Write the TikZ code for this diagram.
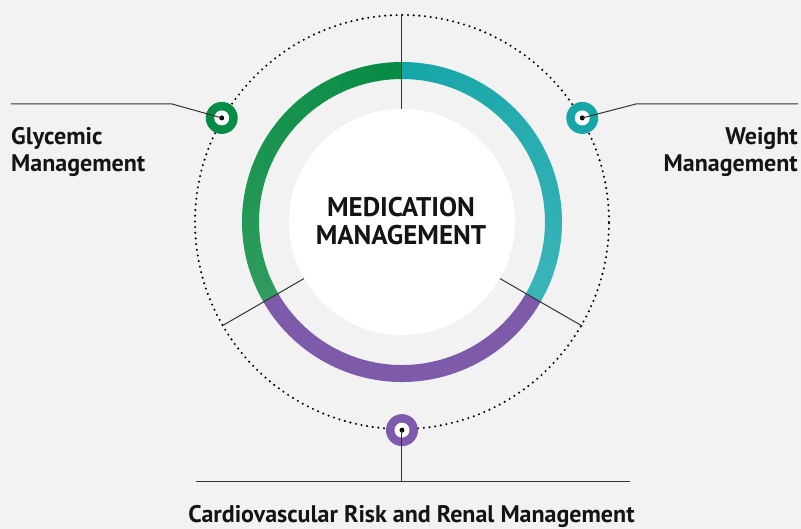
\documentclass[tikz,border=0pt]{standalone}
\usepackage{fontspec}
\setmainfont{PT Sans}
\definecolor{bggrey}{HTML}{F2F2F2}
\definecolor{greendark}{HTML}{078C45}
\definecolor{greenlight}{HTML}{2E9C5C}
\definecolor{tealdark}{HTML}{16A6A7}
\definecolor{teallight}{HTML}{3BB4B9}
\definecolor{purplering}{HTML}{7D5AAA}
\definecolor{inkgrey}{HTML}{333333}
\tikzset{
  ring/.style    = {line width=17pt},
  spoke/.style   = {draw=inkgrey, line width=1pt},
  leader/.style  = {draw=inkgrey, line width=1pt},
  orbit/.style   = {circle, draw=black, line width=2.3pt, line cap=round,
                    dash pattern=on 0pt off 5.7pt, minimum size=414pt, inner sep=0pt},
  core/.style    = {circle, fill=white, minimum size=226pt, inner sep=0pt},
  marker/.style  = {circle, fill=#1, minimum size=32pt, inner sep=0pt},
  hole/.style    = {circle, fill=white, minimum size=15pt, inner sep=0pt},
  pin/.style     = {circle, fill=black, minimum size=5pt, inner sep=0pt},
  area/.style    = {font=\bfseries\fontsize{24}{27}\selectfont, text=black!92, inner sep=0pt},
  title/.style   = {area, font=\bfseries\fontsize{27}{28}\selectfont}
}

\begin{document}
\begin{tikzpicture}[x=1pt, y=1pt]
  \useasboundingbox[fill=bggrey] (-402,-307) rectangle (399,222);

  % coloured ring
  \foreach \i in {0,...,23}{
    \pgfmathtruncatemacro\pct{100-\i*100/23}
    \draw[ring, draw=greendark!\pct!greenlight]
      (90+5*\i:151.5) arc[start angle=90+5*\i, end angle=95.3+5*\i, radius=151.5pt];
    \draw[ring, draw=tealdark!\pct!teallight]
      (90-5*\i:151.5) arc[start angle=90-5*\i, end angle=84.7-5*\i, radius=151.5pt];
  }
  \draw[ring, draw=purplering] (-30:151.5) arc[start angle=-30, end angle=-150, radius=151.5pt];

  \node[core]  (core)  at (0,0) {};
  \node[orbit] (orbit) at (0,0) {};

  \draw[spoke] (core.90)  -- (orbit.90);
  \draw[spoke] (core.210) -- (orbit.210);
  \draw[spoke] (core.-30) -- (orbit.-30);

  % markers on the orbit
  \node[marker=greendark]  (gly) at (orbit.150) {};
  \node[marker=tealdark]   (wgt) at (orbit.30)  {};
  \node[marker=purplering] (cvr) at (orbit.270) {};
  \foreach \m in {gly,wgt,cvr}{
    \node[hole] at (\m) {};
    \node[pin]  at (\m) {};
  }

  % leaders
  \coordinate (gly-bend) at (-230,118);
  \coordinate (gly-end)  at (-391,118);
  \coordinate (wgt-bend) at (234,118);
  \coordinate (wgt-end)  at (396,118);
  \coordinate (cvr-foot) at (0,-260);
  \coordinate (cvr-left) at (-206,-260);
  \coordinate (cvr-right) at (228,-260);
  \draw[leader] (gly.center) -- (gly-bend) -- (gly-end);
  \draw[leader] (wgt.center) -- (wgt-bend) -- (wgt-end);
  \draw[leader] (cvr.center) -- (cvr-foot);
  \draw[leader] (cvr-left) -- (cvr-right);

  % texts
  \node[title, align=center, anchor=base] (medtxt) at (-1,-23) {MEDICATION\\MANAGEMENT};
  \node[area, align=left, anchor=base west] (glytxt) at (-391,50) {Glycemic\\Management};
  \node[area, align=right, anchor=base east] (wgttxt) at (396,50) {Weight\\Management};
  \node[area, anchor=base] (cvrtxt) at (9.5,-301) {Cardiovascular Risk and Renal Management};
\end{tikzpicture}
\end{document}
